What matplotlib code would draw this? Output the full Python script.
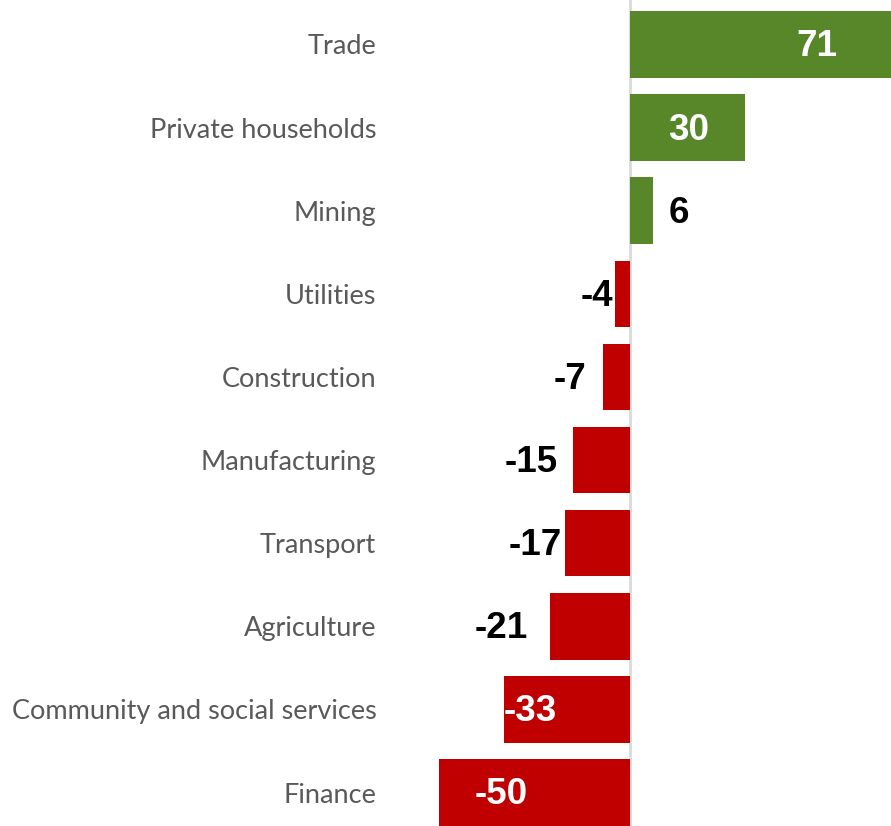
import matplotlib.pyplot as plt

# Datos
categorias = ['Trade', 'Private households', 'Mining', 'Utilities', 'Construction',
              'Manufacturing', 'Transport', 'Agriculture',
              'Community and social services', 'Finance']
valores = [71, 30, 6, -4, -7, -15, -17, -21, -33, -50]

# posicion (centro) de cada etiqueta de valor, en unidades del eje x
pos_etiquetas = [49.0, 15.4, 12.8, -8.6, -15.7, -25.9, -24.9, -33.8, -26.2, -33.8]
etiqueta_dentro = [True, True, False, False, False, False, False, False, True, True]

verde = '#58872A'
rojo = '#C00000'

fig = plt.figure(figsize=(8.91, 8.26), dpi=100)
ax = fig.add_axes([395 / 891, 0, 1 - 395 / 891, 1])

y = list(range(len(categorias)))
colores = [verde if v > 0 else rojo for v in valores]
ax.barh(y, valores, height=0.8, color=colores, zorder=2)

ax.axvline(0, color='#D9D9D9', linewidth=2, zorder=1)

for i, v in enumerate(valores):
    col = 'white' if etiqueta_dentro[i] else 'black'
    ax.text(pos_etiquetas[i], y[i] + 0.03, str(v), ha='center', va='center',
            color=col, fontsize=26.5, fontweight='bold',
            family='Liberation Sans', zorder=3)

ax.set_xlim(-(630 - 395) / 3.82, (891 - 630) / 3.82)
ax.set_ylim(9.403, -0.535)

ax.set_yticks(y)
ax.set_yticklabels(categorias, fontsize=19.5, color='#595959', family='Lato')
ax.tick_params(axis='y', length=0, pad=13.5)
ax.set_xticks([])
for s in ax.spines.values():
    s.set_visible(False)

plt.savefig('out.png', dpi=100)
